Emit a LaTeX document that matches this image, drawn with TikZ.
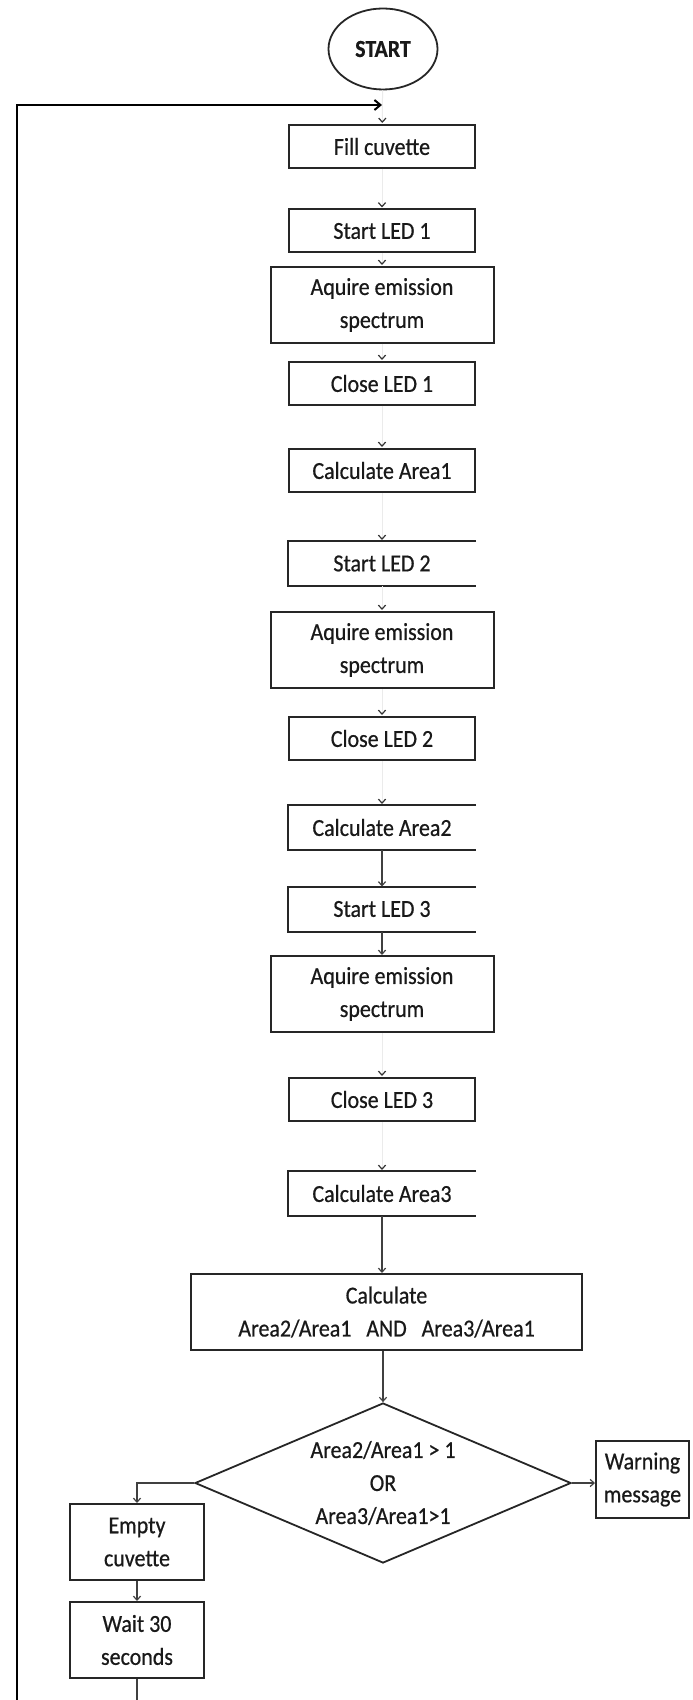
\documentclass[tikz,border=0pt]{standalone}
\usepackage{fontspec}
\setmainfont{Carlito}[FakeStretch=0.9,FakeBold=0.6]
\usetikzlibrary{shapes.geometric,arrows.meta,calc}
\begin{document}
\begin{tikzpicture}[x=0.5pt,y=-0.5pt,
  txt/.style={font=\fontsize{12.2}{16.5}\selectfont, align=center, text=black!90},
  box/.style={txt, draw=black!85, line width=1pt, inner sep=0pt, minimum width=93pt, minimum height=21.5pt},
  tallbox/.style={box, minimum width=111.5pt, minimum height=38pt},
  openbox/.style={box, draw=none},
  openedge/.style={draw=black!85, line width=1pt},
  startell/.style={txt, ellipse, draw=black!85, line width=0.9pt, inner sep=0pt, minimum width=54.5pt, minimum height=40.5pt, font=\fontsize{12.2}{16.5}\selectfont\bfseries},
  decision/.style={txt, diamond, aspect=2.3, draw=black!85, line width=0.9pt, inner sep=0pt, minimum width=188pt, minimum height=80pt},
  faint/.style={draw=black!8, line width=0.5pt, shorten >=0.5pt, -{Straight Barb[length=2pt,width=3.6pt,color=black!80,line width=0.6pt]}},
  solidarr/.style={draw=black!75, line width=0.6pt, -{Straight Barb[length=2pt,width=3.6pt,line width=0.6pt]}},
  plainline/.style={draw=black!75, line width=0.6pt},
  loopline/.style={draw=black, line width=1.2pt, -{Straight Barb[length=3pt,width=5pt,line width=1pt]}}
]
\useasboundingbox (0,0) rectangle (692,1700);

% nodes
\node[startell] (start) at (383,49) {START};
\node[box] (fill) at (382,146.5) {Fill cuvette};
\node[box] (led1) at (382,231) {Start LED 1};
\node[tallbox] (acq1) at (382,305) {Aquire emission\\spectrum};
\node[box] (close1) at (382,383.5) {Close LED 1};
\node[box] (area1) at (382,470.5) {Calculate Area1};
\node[openbox] (led2) at (382,563.5) {Start LED 2};
\node[tallbox] (acq2) at (382,650) {Aquire emission\\spectrum};
\node[box] (close2) at (382,738.5) {Close LED 2};
\node[openbox] (area2) at (382,827.5) {Calculate Area2};
\node[openbox] (led3) at (382,909) {Start LED 3};
\node[tallbox] (acq3) at (382,994) {Aquire emission\\spectrum};
\node[box] (close3) at (382,1099.5) {Close LED 3};
\node[openbox] (area3) at (382,1193.5) {Calculate Area3};
\node[box, minimum width=195.5pt, minimum height=38pt] (ratio) at (386.5,1312) {Calculate\\Area2/Area1~~~AND~~~Area3/Area1};
\node[decision] (dec) at (383,1483) {Area2/Area1 {\char"003E} 1\\OR\\Area3/Area1{\char"003E}1};
\node[box, minimum width=46.5pt, minimum height=38.5pt] (warn) at (642.5,1479.5) {Warning\\message};
\node[box, minimum width=67pt, minimum height=38pt] (empty) at (137,1542) {Empty\\cuvette};
\node[box, minimum width=67pt, minimum height=38pt] (wait) at (137,1640) {Wait 30\\seconds};

% three-sided boxes (no right edge)
\foreach \n in {led2,area2,led3,area3}{
  \draw[openedge] (\n.north east) -- (\n.north west) -- (\n.south west) -- (\n.south east);
}

% loop coordinates
\coordinate (loopB) at (17,1700);
\coordinate (loopT) at (382,105);
\coordinate (waitB) at (137,1700);

% connectors
\draw[faint] (start) -- (fill);
\draw[faint] (fill) -- (led1);
\draw[faint] (led1) -- (acq1);
\draw[faint] (acq1) -- (close1);
\draw[faint] (close1) -- (area1);
\draw[faint] (area1) -- (led2);
\draw[faint] (led2) -- (acq2);
\draw[faint] (acq2) -- (close2);
\draw[faint] (close2) -- (area2);
\draw[solidarr] (area2) -- (led3);
\draw[solidarr] (led3) -- (acq3);
\draw[faint] (acq3) -- (close3);
\draw[faint] (close3) -- (area3);
\draw[solidarr] (area3) -- (area3 |- ratio.north);
\draw[solidarr] (ratio.south -| dec.north) -- (dec.north);
\draw[solidarr] (dec.east) -- (dec.east -| warn.west);
\draw[solidarr] (dec.west) -| (empty.north);
\draw[solidarr] (empty) -- (wait);
\draw[plainline] (wait) -- (waitB);
\draw[loopline] (loopB) |- (loopT);
\end{tikzpicture}
\end{document}
